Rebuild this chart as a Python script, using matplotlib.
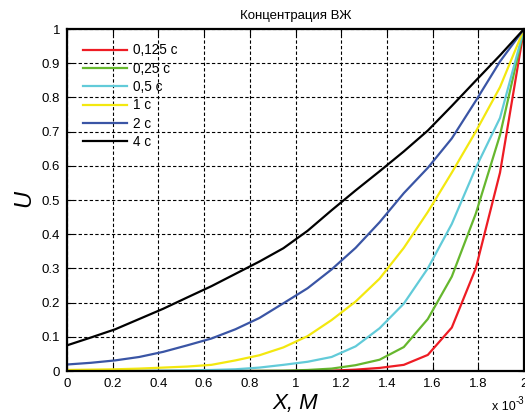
import matplotlib
matplotlib.use("Agg")
import matplotlib.pyplot as plt

plt.rcParams['font.family'] = ['Liberation Sans', 'DejaVu Sans']

# x positions (units of 1e-3 m)
x_vals = [0.0, 0.105, 0.211, 0.316, 0.421, 0.526, 0.632, 0.737, 0.842, 0.947,
          1.053, 1.158, 1.263, 1.368, 1.474, 1.579, 1.684, 1.789, 1.895, 2.0]

u_0125 = [0, 0, 0, 0, 0, 0, 0, 0, 0, 0,
          0.0005, 0.001, 0.004, 0.009, 0.018, 0.047, 0.127, 0.30, 0.58, 1.0]
u_025 = [0, 0, 0, 0, 0, 0, 0, 0, 0.0005, 0.001,
         0.003, 0.007, 0.017, 0.033, 0.07, 0.152, 0.276, 0.46, 0.69, 1.0]
u_05 = [0, 0, 0, 0.0005, 0.001, 0.002, 0.003, 0.005, 0.01, 0.018,
        0.027, 0.041, 0.072, 0.125, 0.197, 0.30, 0.43, 0.594, 0.74, 1.0]
u_1 = [0.003, 0.004, 0.005, 0.007, 0.01, 0.013, 0.018, 0.031, 0.046, 0.069,
       0.102, 0.149, 0.203, 0.27, 0.36, 0.465, 0.58, 0.70, 0.83, 1.0]
u_2 = [0.019, 0.024, 0.031, 0.041, 0.056, 0.075, 0.095, 0.122, 0.155, 0.198,
       0.242, 0.297, 0.36, 0.435, 0.52, 0.594, 0.68, 0.79, 0.905, 1.0]
u_4 = [0.075, 0.098, 0.122, 0.152, 0.182, 0.215, 0.248, 0.284, 0.32, 0.359,
       0.41, 0.47, 0.528, 0.584, 0.642, 0.703, 0.775, 0.849, 0.923, 1.0]

series = [u_0125, u_025, u_05, u_1, u_2, u_4]
labels = ["0,125 с", "0,25 с", "0,5 с", "1 с", "2 с", "4 с"]
colors = ["#ee1c24", "#66b72e", "#62cbd9", "#f3e80f", "#3a55a5", "#000000"]

xticks = [0, 0.2, 0.4, 0.6, 0.8, 1.0, 1.2, 1.4, 1.6, 1.8, 2.0]
xticklabels = ["0", "0.2", "0.4", "0.6", "0.8", "1", "1.2", "1.4", "1.6", "1.8", "2"]
yticks = [0, 0.1, 0.2, 0.3, 0.4, 0.5, 0.6, 0.7, 0.8, 0.9, 1.0]
yticklabels = ["0", "0.1", "0.2", "0.3", "0.4", "0.5", "0.6", "0.7", "0.8", "0.9", "1"]

fig = plt.figure(figsize=(5.25, 4.15), dpi=100)
ax = fig.add_axes([67/525, 44/415, 457/525, 342/415])

for s, lab, c in zip(series, labels, colors):
    ax.plot(x_vals, s, color=c, lw=1.6, label=lab)

ax.set_xlim(0, 2)
ax.set_ylim(0, 1)
ax.set_xticks(xticks)
ax.set_xticklabels(xticklabels)
ax.set_yticks(yticks)
ax.set_yticklabels(yticklabels)
ax.tick_params(direction='in', top=True, right=True, length=4, width=0.8,
               labelsize=9.5, pad=5)
ax.grid(True, color='k', linestyle=(0, (3, 2)), linewidth=0.8)
for sp in ax.spines.values():
    sp.set_linewidth(1.6)

ax.set_title("Концентрация ВЖ", fontsize=9.5, pad=7)

ax.text(-0.094, 0.503, "U", transform=ax.transAxes, rotation=90,
        ha='center', va='center', fontsize=17, style='italic')
ax.text(0.5, -0.094, "X, M", transform=ax.transAxes,
        ha='center', va='center', fontsize=16, style='italic')
fig.text(492/525, 1 - 407/415, "x 10", fontsize=9, ha='left', va='center')
fig.text(516/525, 1 - 401/415, "-3", fontsize=7, ha='left', va='center')

leg = ax.legend(loc='upper left', frameon=False, fontsize=9.8,
                handlelength=3.2, handletextpad=0.45, labelspacing=0.32,
                borderaxespad=0.5, bbox_to_anchor=(0.009, 0.994))

fig.savefig("out.png", dpi=100)
